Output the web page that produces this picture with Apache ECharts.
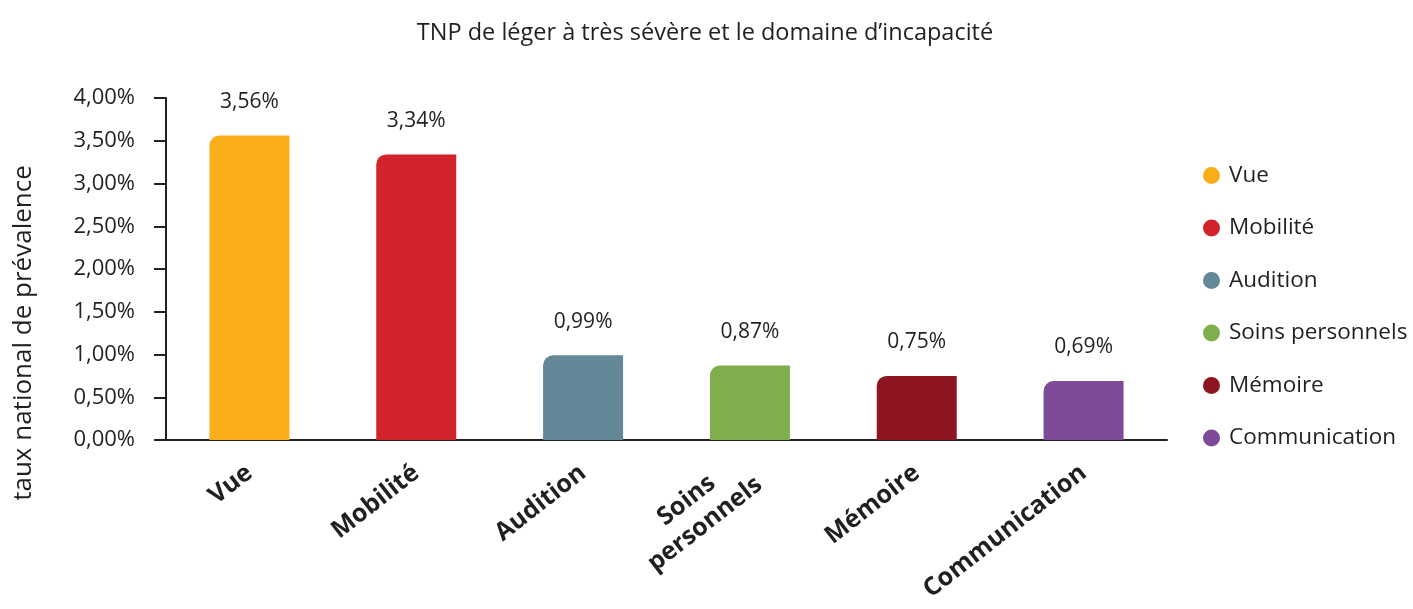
<!DOCTYPE html>
<html>
<head>
<meta charset="utf-8">
<script src="https://cdn.jsdelivr.net/npm/echarts@6/dist/echarts.min.js"></script>
<style>
  html, body { margin: 0; padding: 0; background: #fff; }
  #chart { width: 1413px; height: 609px; }
</style>
</head>
<body>
<div id="chart"></div>
<script>
const categories = ['Vue', 'Mobilité', 'Audition', 'Soins\npersonnels', 'Mémoire', 'Communication'];
const legendNames = ['Vue', 'Mobilité', 'Audition', 'Soins personnels', 'Mémoire', 'Communication'];
const values = [3.56, 3.34, 0.99, 0.87, 0.75, 0.69];
const colors = ['#F9AE1A', '#D2232A', '#638897', '#80AE4C', '#8E1622', '#7F4B99'];

const fontFamily = '"Open Sans", Lato, sans-serif';
const textColor = '#231F20';

const fmtPct = (v) => v.toFixed(2).replace('.', ',') + '%';

const chart = echarts.init(document.getElementById('chart'));

// one series per domain so the legend lists every bar
const series = legendNames.map((name, i) => ({
  name: name,
  type: 'bar',
  barWidth: 80,
  barGap: '-100%',
  data: values.map((v, j) => (j === i ? v : '-')),
  itemStyle: { color: colors[i], borderRadius: [10, 0, 0, 0] },
  label: {
    show: true,
    position: 'top',
    distance: 23,
    fontFamily: fontFamily,
    fontSize: 21,
    color: textColor,
    formatter: (p) => fmtPct(p.value)
  }
}));

chart.setOption({
  animation: false,
  title: {
    text: 'TNP de léger à très sévère et le domaine d’incapacité',
    left: 700,
    top: 16,
    textAlign: 'center',
    textStyle: { fontFamily: fontFamily, fontSize: 23.5, fontWeight: 'normal', color: textColor }
  },
  legend: {
    orient: 'vertical',
    left: 1198,
    top: 159,
    itemGap: 29.5,
    itemWidth: 17,
    itemHeight: 17,
    icon: 'circle',
    data: legendNames,
    textStyle: { fontFamily: fontFamily, fontSize: 22.5, color: textColor, padding: [0, 0, 0, 4] }
  },
  grid: { left: 166, right: 246, top: 98, bottom: 169, containLabel: false },
  xAxis: {
    type: 'category',
    data: categories,
    axisLine: { lineStyle: { color: textColor, width: 2 } },
    axisTick: { show: false },
    axisLabel: {
      interval: 0,
      rotate: 38,
      margin: 30,
      fontFamily: fontFamily,
      fontSize: 25,
      fontWeight: 'bold',
      color: textColor,
      formatter: (v) => v.split('\n').map((s) => '{c|' + s + '}').join('\n'),
      rich: {
        c: {
          align: 'center',
          fontFamily: fontFamily,
          fontSize: 25,
          fontWeight: 'bold',
          color: textColor,
          lineHeight: 30
        }
      }
    }
  },
  yAxis: {
    type: 'value',
    min: 0,
    max: 4,
    interval: 0.5,
    axisLine: { show: true, lineStyle: { color: textColor, width: 2 } },
    axisTick: { show: true, length: 12, lineStyle: { color: textColor, width: 2 } },
    splitLine: { show: false },
    axisLabel: {
      margin: 31,
      fontFamily: fontFamily,
      fontSize: 22,
      color: textColor,
      formatter: (v) => fmtPct(v)
    }
  },
  graphic: [{
    type: 'text',
    x: 24,
    y: 333,
    rotation: Math.PI / 2,
    style: {
      text: 'taux national de prévalence',
      fontFamily: fontFamily,
      fontSize: 26,
      fill: textColor,
      align: 'center',
      verticalAlign: 'middle'
    }
  }],
  series: series
});
</script>
</body>
</html>
